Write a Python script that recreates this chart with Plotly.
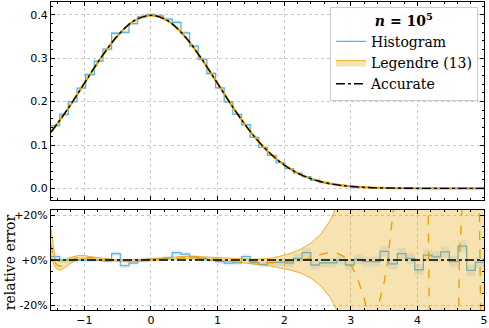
import plotly.graph_objects as go
from plotly.subplots import make_subplots

# accurate density, sampled
x_acc = [-1.5, -1.25, -1.0, -0.75, -0.5, -0.25, 0.0, 0.25, 0.5, 0.75, 1.0, 1.25, 1.5,
         1.75, 2.0, 2.25, 2.5, 2.75, 3.0, 3.25, 3.5, 3.75, 4.0, 4.25, 4.5, 4.75, 5.0]
y_acc = [0.1295, 0.1826, 0.2420, 0.3011, 0.3521, 0.3867, 0.3989, 0.3867, 0.3521, 0.3011,
         0.2420, 0.1826, 0.1295, 0.0863, 0.0540, 0.0317, 0.0175, 0.0091, 0.0044, 0.0020,
         0.0009, 0.0004, 0.0001, 0.0000, 0.0000, 0.0000, 0.0000]

# histogram, 50 bins on [-1.5, 5]
bin_edges = [round(-1.5 + 0.13 * k, 2) for k in range(51)]
hist_density = [0.1446, 0.1703, 0.2000, 0.2311, 0.2625, 0.2932, 0.3209, 0.3577, 0.3598, 0.3798,
                0.3953, 0.4005, 0.3978, 0.3901, 0.3827, 0.3585, 0.3282, 0.2976, 0.2649, 0.2319,
                0.1996, 0.1704, 0.1467, 0.1177, 0.0947, 0.0760, 0.0596, 0.0457, 0.0353, 0.0270,
                0.0187, 0.0136, 0.0096, 0.0068, 0.0045, 0.0031, 0.0021, 0.0013, 0.00089, 0.00053,
                0.00034, 0.00020, 0.00011, 0.00007, 0.00004, 0.00002, 0.00001, 0.00001, 0.00001, 0.00001]
hist_relerr = [1.5, 0.0, 0.0, 0.0, 0.0, 0.0, -0.3, 2.9, -2.5, -1.4,
               0.0, 0.4, 0.5, 1.0, 3.3, 2.6, 1.3, 0.7, 0.0, -0.7,
               -1.4, -1.2, 1.5, -1.2, -1.9, -1.0, -1.0, -1.4, 0.7, 3.3,
               -2.2, -1.2, -1.2, 0.0, -2.2, 0.3, -0.7, -0.7, 3.9, -1.7,
               2.9, 0.7, -4.3, 2.2, 1.4, 3.6, -0.7, 6.2, -4.6, -1.0]
hist_unc = [1.5, 1.3, 1.2, 1.1, 1.0, 1.0, 1.0, 1.0, 1.0, 1.0,
            1.0, 1.0, 1.0, 1.0, 1.0, 1.0, 1.0, 1.0, 1.0, 1.1,
            1.1, 1.2, 1.2, 1.3, 1.4, 1.5, 1.6, 1.7, 1.8, 1.9,
            2.0, 2.0, 2.1, 2.1, 2.2, 2.2, 2.3, 2.3, 2.4, 2.4,
            2.5, 2.5, 2.5, 2.5, 2.5, 2.5, 2.5, 2.5, 2.5, 2.5]

# Legendre (13) relative error, %
x_leg = [-1.5, -1.47, -1.44, -1.40, -1.36, -1.30, -1.2, -1.1, -1.0, -0.9, -0.75, -0.6,
         -0.45, -0.3, -0.15, 0.0, 0.15, 0.3, 0.45, 0.6, 0.75, 0.9, 1.05, 1.2, 1.35, 1.5,
         1.65, 1.8, 1.95, 2.1, 2.25, 2.4, 2.55, 2.7, 2.8, 2.9, 3.0, 3.1, 3.2, 3.3, 3.4,
         3.45, 3.5, 3.55, 3.6, 3.65, 3.7, 3.9, 4.15, 4.17, 4.19, 4.4, 4.61, 4.63, 4.65,
         4.8, 4.92, 4.94, 4.96, 5.0]
leg_mid = [7.0, 2.0, -1.0, -2.5, -2.8, -2.0, 0.0, 1.2, 1.3, 1.0, 0.3, 0.0,
           -0.3, -0.4, -0.2, 0.1, 0.5, 0.8, 1.1, 1.1, 0.9, 0.6, 0.3, 0.0, -0.3, -0.6,
           -0.9, -1.2, -1.0, -0.6, 0.0, 1.0, 2.5, 3.5, 3.0, 1.5, -2.0, -8.0, -17.0, -29.0, -22.0,
           -16.0, -10.0, -1.0, 12.0, 25.0, 45.0, 100.0, 50.0, 0.0, -50.0, -100.0, -50.0, 0.0, 50.0,
           100.0, 50.0, 0.0, -50.0, -100.0]
leg_lo = [1.0, -1.0, -3.0, -4.3, -4.5, -3.5, -1.3, 0.3, 0.6, 0.4, -0.2, -0.4,
          -0.8, -0.9, -0.6, -0.3, 0.1, 0.4, 0.6, 0.5, 0.3, 0.0, -0.3, -0.6, -1.1, -1.6,
          -2.2, -2.7, -3.6, -4.5, -5.8, -8.0, -11.5, -17.0, -23.0, -40.0, -60.0, -100.0, -150.0, -250.0, -400.0,
          -400.0, -400.0, -400.0, -400.0, -400.0, -400.0, -400.0, -400.0, -400.0, -400.0, -400.0, -400.0, -400.0, -400.0,
          -400.0, -400.0, -400.0, -400.0, -400.0]
leg_hi = [14.0, 6.0, 1.0, -0.5, -0.5, 0.0, 1.2, 2.0, 2.0, 1.5, 0.8, 0.4,
          0.2, 0.1, 0.3, 0.5, 0.9, 1.3, 1.6, 1.7, 1.5, 1.2, 0.9, 0.6, 0.5, 0.4,
          0.5, 0.8, 1.8, 3.0, 4.8, 7.5, 11.5, 18.0, 25.0, 40.0, 60.0, 100.0, 150.0, 250.0, 400.0,
          400.0, 400.0, 400.0, 400.0, 400.0, 400.0, 400.0, 400.0, 400.0, 400.0, 400.0, 400.0, 400.0, 400.0,
          400.0, 400.0, 400.0, 400.0, 400.0]

BLUE = '#56B4E9'
ORANGE = '#E69F00'
SERIF = 'DejaVu Serif'

hx = bin_edges
hy = hist_density + [hist_density[-1]]
rel = hist_relerr + [hist_relerr[-1]]
unc = hist_unc + [hist_unc[-1]]

fig = make_subplots(rows=2, cols=1, shared_xaxes=True, vertical_spacing=0.032,
                    row_heights=[0.665, 0.335])

# top panel
fig.add_trace(go.Scatter(x=hx, y=[v * (1 - u / 100) for v, u in zip(hy, unc)],
                         mode='lines', line=dict(width=0, shape='hv'),
                         showlegend=False, hoverinfo='skip'), row=1, col=1)
fig.add_trace(go.Scatter(x=hx, y=[v * (1 + u / 100) for v, u in zip(hy, unc)],
                         mode='lines', line=dict(width=0, shape='hv'),
                         fill='tonexty', fillcolor='rgba(86,180,233,0.25)',
                         showlegend=False, hoverinfo='skip'), row=1, col=1)
fig.add_trace(go.Scatter(x=hx, y=hy, mode='lines', name='Histogram', legendrank=1,
                         line=dict(color=BLUE, width=1.3, shape='hv')), row=1, col=1)
fig.add_trace(go.Scatter(x=x_acc, y=y_acc, mode='lines', showlegend=False,
                         line=dict(color=ORANGE, width=2.2, shape='spline')), row=1, col=1)
fig.add_trace(go.Scatter(x=x_acc, y=y_acc, mode='lines', name='Accurate', legendrank=3,
                         line=dict(color='black', width=1.4, dash='dashdot', shape='spline')),
              row=1, col=1)

# bottom panel
fig.add_trace(go.Scatter(x=hx, y=[r - u for r, u in zip(rel, unc)],
                         mode='lines', line=dict(width=0, shape='hv'),
                         showlegend=False, hoverinfo='skip'), row=2, col=1)
fig.add_trace(go.Scatter(x=hx, y=[r + u for r, u in zip(rel, unc)],
                         mode='lines', line=dict(width=0, shape='hv'),
                         fill='tonexty', fillcolor='rgba(86,180,233,0.18)',
                         showlegend=False, hoverinfo='skip'), row=2, col=1)
fig.add_trace(go.Scatter(x=hx, y=rel, mode='lines', showlegend=False,
                         line=dict(color=BLUE, width=1.3, shape='hv')), row=2, col=1)
fig.add_trace(go.Scatter(x=x_leg, y=leg_lo, mode='lines', showlegend=False,
                         line=dict(color=ORANGE, width=0.8)), row=2, col=1)
fig.add_trace(go.Scatter(x=x_leg, y=leg_hi, mode='lines', name='Legendre (13)', legendrank=2,
                         fill='tonexty', fillcolor='rgba(230,159,0,0.3)',
                         line=dict(color=ORANGE, width=0.8)), row=2, col=1)
fig.add_trace(go.Scatter(x=x_leg, y=leg_mid, mode='lines', showlegend=False,
                         line=dict(color=ORANGE, width=1.3, dash='dash')), row=2, col=1)
fig.add_trace(go.Scatter(x=[-1.5, 5.0], y=[0, 0], mode='lines', showlegend=False,
                         line=dict(color='black', width=1.4, dash='dashdot')), row=2, col=1)

axis_style = dict(showline=True, linecolor='black', linewidth=1, mirror='allticks',
                  ticks='inside', ticklen=4, tickcolor='black',
                  showgrid=True, gridcolor='#c8c8c8', griddash='dot', gridwidth=1,
                  zeroline=False, tickfont=dict(family='DejaVu Sans', size=11, color='black'))

fig.update_xaxes(**axis_style, range=[-1.5, 5.0], dtick=1,
                 minor=dict(ticks='inside', ticklen=2, dtick=0.2, tickcolor='black', showgrid=False))
fig.update_xaxes(showticklabels=False, row=1, col=1)
fig.update_yaxes(**axis_style)
fig.update_yaxes(range=[-0.0274, 0.4297], tickvals=[0.0, 0.1, 0.2, 0.3, 0.4], tickformat='.1f',
                 minor=dict(ticks='inside', ticklen=2, dtick=0.02, tickcolor='black', showgrid=False),
                 row=1, col=1)
fig.update_yaxes(range=[-22.2, 22.2], tickvals=[-20, 0, 20], ticktext=['-20%', '+0%', '+20%'],
                 minor=dict(ticks='inside', ticklen=2, dtick=5, tickcolor='black', showgrid=False),
                 row=2, col=1)

fig.add_annotation(text='relative error', xref='paper', yref='paper', x=-0.095, y=0.155,
                   textangle=-90, showarrow=False, xanchor='center', yanchor='middle',
                   font=dict(family=SERIF, size=14, color='black'))

fig.update_layout(
    width=489, height=328,
    margin=dict(l=51, r=4, t=1, b=16),
    plot_bgcolor='white', paper_bgcolor='white',
    showlegend=True,
    legend=dict(x=0.986, y=0.985, xanchor='right', yanchor='top', traceorder='normal',
                bgcolor='rgba(255,255,255,0.85)', bordercolor='#cccccc', borderwidth=1,
                font=dict(family=SERIF, size=14, color='black'), itemwidth=30,
                tracegroupgap=0,
                title=dict(text='<b><i>n</i> = 10<sup>5</sup></b>', side='top center',
                           font=dict(family=SERIF, size=14, color='black'))),
)

fig.write_html("out.html", config={'displayModeBar': False},
               post_script="document.body.style.margin='0';")
